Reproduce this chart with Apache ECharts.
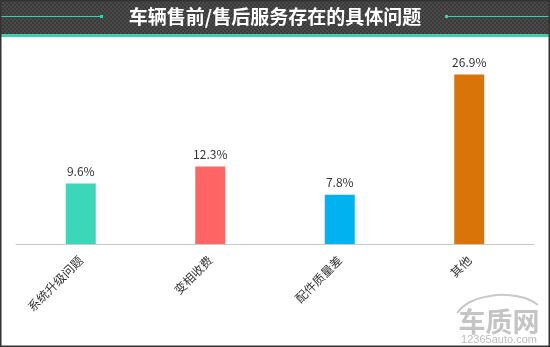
<!DOCTYPE html>
<html><head><meta charset="utf-8">
<script src="https://cdn.jsdelivr.net/npm/echarts@6/dist/echarts.min.js"></script>
<style>html,body{margin:0;padding:0;background:#fff}#c{width:550px;height:347px}</style>
</head><body><div id="c"></div>
<script>
const categories = ['系统升级问题', '变相收费', '配件质量差', '其他'];
const values = [9.6, 12.3, 7.8, 26.9];
const colors = ['#3cd6b9', '#ff6565', '#00b2f0', '#d97409'];
const titleText = '车辆售前/售后服务存在的具体问题';

const pc = document.createElement('canvas');
pc.width = 4; pc.height = 4;
const pctx = pc.getContext('2d');
pctx.fillStyle = '#3b3b3b'; pctx.fillRect(0,0,4,4);
pctx.fillStyle = '#4a4a4a'; pctx.fillRect(0,0,2,2); pctx.fillRect(2,2,2,2);

const chart = echarts.init(document.getElementById('c'), null, {renderer:'canvas'});
chart.setOption({
  animation: false,
  grid: {left: 16, right: 16, top: 55, bottom: 103, containLabel: false},
  xAxis: {
    type: 'category', data: categories,
    axisLine: {lineStyle: {color: '#c8c8c8', width: 1}},
    axisTick: {show: false},
    axisLabel: {rotate: 45, color: '#333', fontSize: 12, margin: 14, fontFamily: 'Noto Sans CJK SC', interval: 0}
  },
  yAxis: {type: 'value', min: 0, max: 30, show: false, splitLine: {show: false}},
  series: [{
    type: 'bar', barWidth: 30,
    data: values.map((v, i) => ({value: v, itemStyle: {color: colors[i]}})),
    label: {show: true, position: 'top', formatter: p => p.value.toFixed(1) + '%', color: '#333', fontSize: 12, distance: 6, fontFamily: 'Noto Sans CJK SC'}
  }],
  graphic: [
    {type: 'rect', shape: {x: 0, y: 0, width: 550, height: 34}, style: {fill: {image: pc, repeat: 'repeat'}}, z: 10},
    {type: 'rect', shape: {x: 0, y: 34, width: 550, height: 3}, style: {fill: '#3cd0b2'}, z: 10},
    {type: 'line', shape: {x1: 0, y1: 16.5, x2: 102, y2: 16.5}, style: {stroke: '#3cd0b2', lineWidth: 1}, z: 11},
    {type: 'rect', shape: {x: 100, y: 15, width: 3, height: 3}, style: {fill: '#3cd0b2'}, z: 11},
    {type: 'line', shape: {x1: 446, y1: 16.5, x2: 550, y2: 16.5}, style: {stroke: '#3cd0b2', lineWidth: 1}, z: 11},
    {type: 'rect', shape: {x: 445, y: 15, width: 3, height: 3}, style: {fill: '#3cd0b2'}, z: 11},
    {type: 'text', x: 275, y: 17, style: {text: titleText, fill: '#fff', fontSize: 19, fontWeight: 'bold', fontFamily: 'Noto Sans CJK SC', align: 'center', verticalAlign: 'middle'}, z: 12},
    {type: 'polyline', shape: {points: [[457,313],[470,302],[490,296],[507,295],[525,298],[538,305]], smooth: 0.5}, style: {stroke: '#c8c8c8', lineWidth: 2, fill: null}, z: 5},
    {type: 'text', x: 499, y: 322, style: {text: '车质网', fill: '#c4c4c4', fontSize: 27, fontWeight: 'bold', fontFamily: 'Noto Sans CJK SC', align: 'center', verticalAlign: 'middle'}, z: 5},
    {type: 'text', x: 499, y: 340, style: {text: '12365auto.com', fill: '#bdbdbd', fontSize: 11, fontFamily: 'Liberation Sans', align: 'center', verticalAlign: 'middle'}, z: 5},
    {type: 'rect', shape: {x: 0.5, y: 0.5, width: 549, height: 346}, style: {fill: null, stroke: '#333', lineWidth: 2}, z: 20}
  ]
});
</script></body></html>
